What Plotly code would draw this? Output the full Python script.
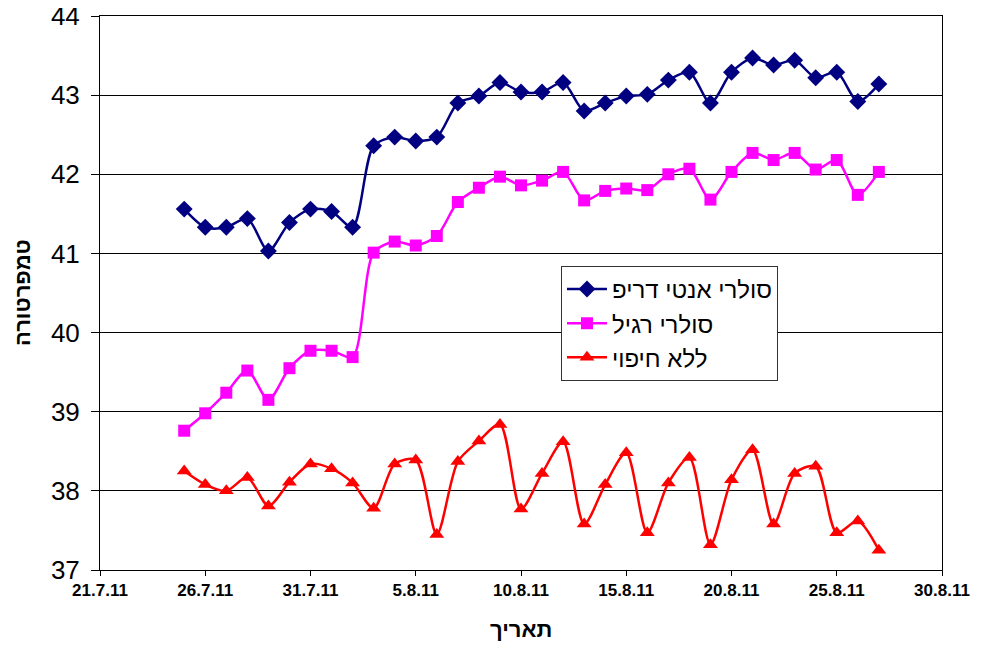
import plotly.graph_objects as go

dates = [
    "2011-07-25", "2011-07-26", "2011-07-27", "2011-07-28", "2011-07-29", "2011-07-30", "2011-07-31",
    "2011-08-01", "2011-08-02", "2011-08-03", "2011-08-04", "2011-08-05", "2011-08-06", "2011-08-07",
    "2011-08-08", "2011-08-09", "2011-08-10", "2011-08-11", "2011-08-12", "2011-08-13", "2011-08-14",
    "2011-08-15", "2011-08-16", "2011-08-17", "2011-08-18", "2011-08-19", "2011-08-20", "2011-08-21",
    "2011-08-22", "2011-08-23", "2011-08-24", "2011-08-25", "2011-08-26", "2011-08-27",
]

anti_drip = [41.56, 41.33, 41.33, 41.44, 41.03, 41.39, 41.56, 41.53, 41.33, 42.36,
             42.47, 42.42, 42.47, 42.90, 42.99, 43.16, 43.04, 43.04, 43.16, 42.80,
             42.90, 42.99, 43.01, 43.19, 43.29, 42.90, 43.29, 43.47, 43.38, 43.44,
             43.22, 43.29, 42.92, 43.14]

regular = [38.76, 38.98, 39.24, 39.52, 39.15, 39.55, 39.77, 39.77, 39.69, 41.01,
           41.15, 41.10, 41.22, 41.65, 41.83, 41.97, 41.86, 41.92, 42.03, 41.67,
           41.79, 41.82, 41.80, 42.00, 42.07, 41.68, 42.03, 42.27, 42.18, 42.27,
           42.06, 42.18, 41.74, 42.03]

no_cover = [38.25, 38.08, 38.00, 38.17, 37.81, 38.11, 38.34, 38.28, 38.10, 37.78,
            38.34, 38.39, 37.45, 38.37, 38.63, 38.84, 37.77, 38.22, 38.62, 37.58,
            38.08, 38.48, 37.47, 38.10, 38.42, 37.32, 38.14, 38.52, 37.58, 38.22,
            38.31, 37.47, 37.62, 37.25]

names = ["סולרי אנטי דריפ", "סולרי רגיל", "ללא חיפוי"]
colors = ["#000080", "#FF00FF", "#FF0000"]
symbols = ["diamond", "square", "triangle-up"]
sizes = [13, 12, 13]

fig = go.Figure()
for vals, name, col, sym, sz in zip([anti_drip, regular, no_cover], names, colors, symbols, sizes):
    fig.add_trace(go.Scatter(
        x=dates, y=vals, name=name, mode="lines+markers",
        line=dict(color=col, width=2.5, shape="spline", smoothing=0.8),
        marker=dict(symbol=sym, size=sz, color=col),
    ))

DAY = 24 * 3600 * 1000
# page body has an 8px margin, so the figure is offset by (8, 8)
fig.update_layout(
    width=974, height=640,
    margin=dict(l=92, r=40, t=8, b=78, autoexpand=False),
    plot_bgcolor="white", paper_bgcolor="white",
    font=dict(family="Liberation Sans, Arial, sans-serif", color="black"),
    showlegend=True,
    legend=dict(
        x=0.5475, y=0.549, xanchor="left", yanchor="top",
        bgcolor="white", bordercolor="#333333", borderwidth=1,
        font=dict(size=24, family="Liberation Sans, Arial, sans-serif"),
        tracegroupgap=0, itemwidth=40,
    ),
    xaxis=dict(
        type="date", range=["2011-07-21", "2011-08-30"], automargin=False,
        tick0="2011-07-21", dtick=5 * DAY, tickformat="%-d.%-m.%y",
        showgrid=False, showline=True, linecolor="black", linewidth=1, mirror=True,
        ticks="outside", ticklen=5, tickcolor="black",
        tickfont=dict(size=17, family="Liberation Sans Narrow, Arial Narrow, Liberation Sans, sans-serif", color="black", weight="bold"),
        zeroline=False,
    ),
    yaxis=dict(
        range=[37, 44], dtick=1, tick0=37, automargin=False,
        ticklabeloverflow="allow",
        showgrid=True, gridcolor="black", gridwidth=1,
        showline=True, linecolor="black", linewidth=1, mirror=True,
        ticks="outside", ticklen=8, tickcolor="black", ticklabelstandoff=6,
        tickfont=dict(size=26, color="black"),
        zeroline=False,
    ),
    annotations=[
        dict(text="<b>תאריך</b>", xref="paper", yref="paper", x=0.5, y=-0.108,
             xanchor="center", yanchor="middle", showarrow=False,
             font=dict(size=22, color="black")),
        dict(text="<b>טמפרטורה</b>", xref="paper", yref="paper", x=-0.0926, y=0.5,
             xanchor="center", yanchor="middle", showarrow=False, textangle=-90,
             font=dict(size=22, color="black")),
    ],
)

fig.write_html("out.html")
